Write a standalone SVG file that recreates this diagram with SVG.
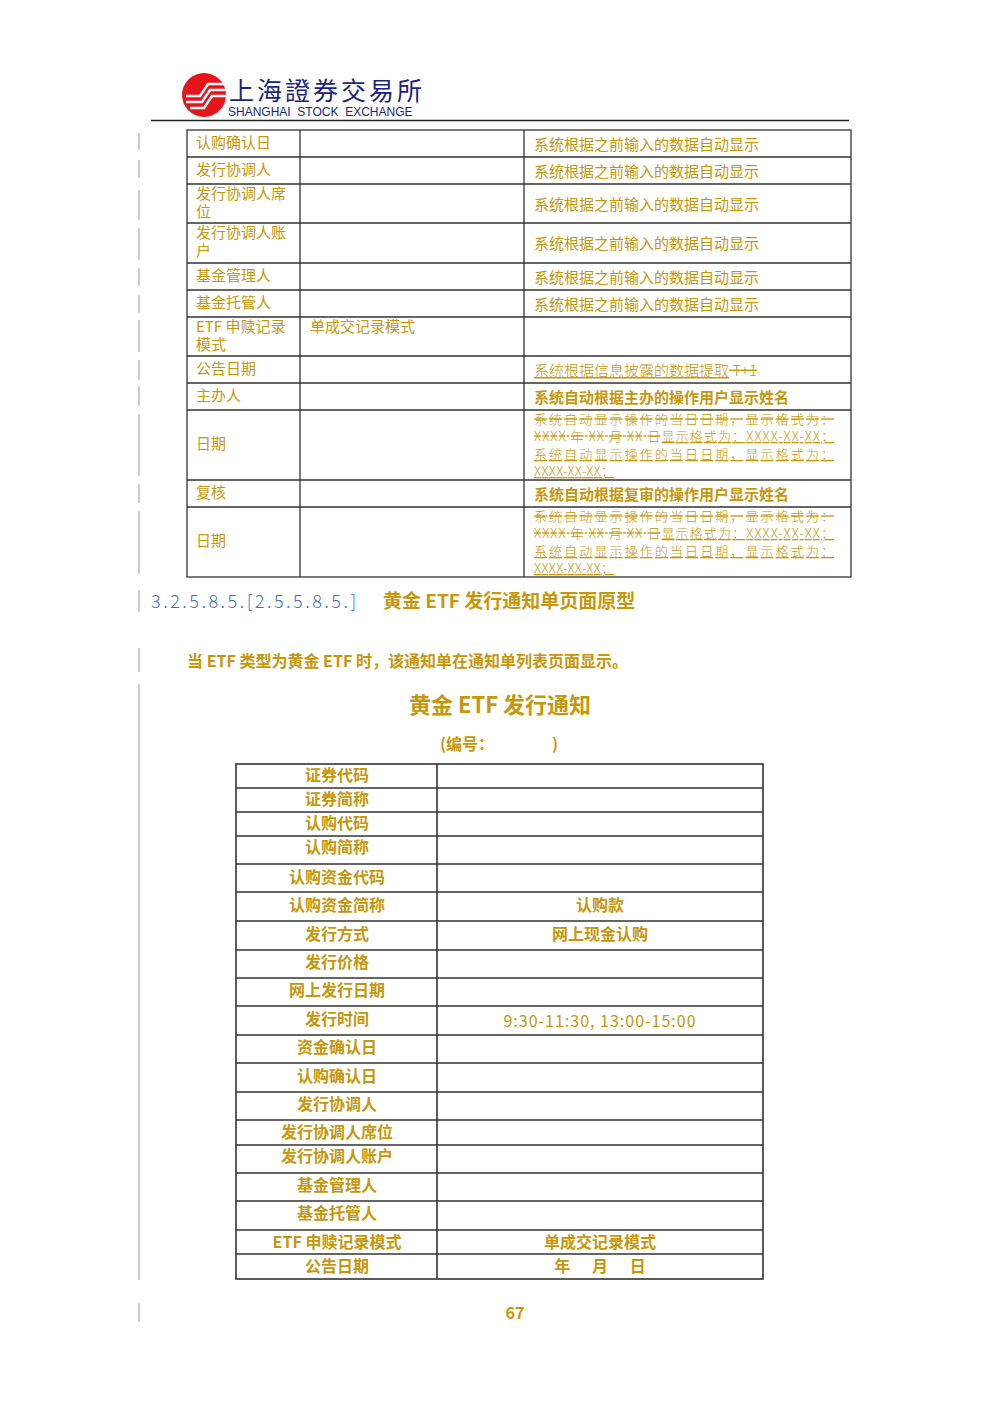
<svg xmlns="http://www.w3.org/2000/svg" width="1000" height="1415" viewBox="0 0 1000 1415">
<style>
.g{fill:#c8960a;font-family:"Noto Sans CJK SC","Liberation Serif",serif;font-size:15px}
.b{font-weight:bold}
.c{text-anchor:middle}
.s{text-decoration:line-through}
.u{text-decoration:underline}
.t{fill:none;stroke:#333;stroke-width:1.3}
.bar{stroke:#999;stroke-width:1}
</style>
<rect width="1000" height="1415" fill="#fff"/>
<g id="logo">
<circle cx="204" cy="95" r="22" fill="#e8141b"/>
<path d="M186 96 h14 l8 -12 h20 M186 102 h16 l8 -12 h18 M190 108 h14 l8 -12 h16" stroke="#fff" stroke-width="2.5" fill="none"/>
<text x="229" y="100" font-family="Noto Sans CJK SC,sans-serif" font-size="25" fill="#1a237e" letter-spacing="3">上海證券交易所</text>
<text x="228" y="116" font-family="Liberation Sans,sans-serif" font-size="12" fill="#1a237e" xml:space="preserve">SHANGHAI  STOCK  EXCHANGE</text>
<line x1="151" y1="120.5" x2="849" y2="120.5" stroke="#222" stroke-width="1.5"/>
</g>
<g id="bars">
<line class="bar" x1="139" y1="133" x2="139" y2="150"/><line class="bar" x1="139" y1="160" x2="139" y2="178"/>
<line class="bar" x1="139" y1="190" x2="139" y2="220"/><line class="bar" x1="139" y1="228" x2="139" y2="260"/>
<line class="bar" x1="139" y1="268" x2="139" y2="286"/><line class="bar" x1="139" y1="295" x2="139" y2="313"/>
<line class="bar" x1="139" y1="320" x2="139" y2="352"/><line class="bar" x1="139" y1="360" x2="139" y2="380"/>
<line class="bar" x1="139" y1="386" x2="139" y2="406"/><line class="bar" x1="139" y1="414" x2="139" y2="476"/>
<line class="bar" x1="139" y1="484" x2="139" y2="503"/><line class="bar" x1="139" y1="511" x2="139" y2="574"/>
<line class="bar" x1="139" y1="590" x2="139" y2="612"/><line class="bar" x1="139" y1="648" x2="139" y2="672"/>
<line class="bar" x1="139" y1="684" x2="139" y2="1280"/><line class="bar" x1="139" y1="1303" x2="139" y2="1322"/>
</g>
<g id="table1">
<rect class="t" x="187" y="130" width="664" height="447"/>
<path class="t" d="M300 130V577M524 130V577M187 157H851M187 184H851M187 223H851M187 263H851M187 290H851M187 317H851M187 356H851M187 383H851M187 410H851M187 480H851M187 507H851"/>
<g class="g">
<text x="196" y="148">认购确认日</text><text x="534" y="150">系统根据之前输入的数据自动显示</text>
<text x="196" y="175">发行协调人</text><text x="534" y="177">系统根据之前输入的数据自动显示</text>
<text x="196" y="199">发行协调人席</text><text x="196" y="217">位</text><text x="534" y="210">系统根据之前输入的数据自动显示</text>
<text x="196" y="238">发行协调人账</text><text x="196" y="256">户</text><text x="534" y="249">系统根据之前输入的数据自动显示</text>
<text x="196" y="281">基金管理人</text><text x="534" y="283">系统根据之前输入的数据自动显示</text>
<text x="196" y="308">基金托管人</text><text x="534" y="310">系统根据之前输入的数据自动显示</text>
<text x="196" y="332">ETF 申赎记录</text><text x="196" y="350">模式</text><text x="310" y="332">单成交记录模式</text>
<text x="196" y="374">公告日期</text>
<text x="534" y="376" font-weight="300"><tspan class="u">系统根据信息披露的数据提取</tspan><tspan class="s"> T+1 </tspan></text>
<text x="196" y="401">主办人</text><text x="534" y="403" class="b">系统自动根据主办的操作用户显示姓名</text>
<text x="196" y="449">日期</text>
<g font-weight="300" style="font-size:13px">
<text x="534" y="424" class="s" textLength="300">系统自动显示操作的当日日期，显示格式为：</text>
<text x="534" y="441" textLength="300"><tspan class="s">XXXX 年 XX 月 XX 日</tspan><tspan class="u">显示格式为：XXXX-XX-XX；</tspan></text>
<text x="534" y="459" class="u" textLength="300">系统自动显示操作的当日日期，显示格式为：</text>
<text x="534" y="476" class="u" textLength="80">XXXX-XX-XX；</text>
</g>
<text x="196" y="498">复核</text><text x="534" y="500" class="b">系统自动根据复审的操作用户显示姓名</text>
<text x="196" y="546">日期</text>
<g font-weight="300" style="font-size:13px">
<text x="534" y="521" class="s" textLength="300">系统自动显示操作的当日日期，显示格式为：</text>
<text x="534" y="538" textLength="300"><tspan class="s">XXXX 年 XX 月 XX 日</tspan><tspan class="u">显示格式为：XXXX-XX-XX；</tspan></text>
<text x="534" y="556" class="u" textLength="300">系统自动显示操作的当日日期，显示格式为：</text>
<text x="534" y="573" class="u" textLength="80">XXXX-XX-XX；</text>
</g>
</g>
</g>
<g id="heading">
<text x="151" y="608" style="font-family:'Noto Sans CJK SC',serif;font-size:18px;fill:#3b6fc9;font-weight:300" letter-spacing="2.5">3.2.5.8.5.[2.5.5.8.5.]</text>
<text x="383" y="608" class="g b" style="font-size:19px">黄金 ETF 发行通知单页面原型</text>
<text x="187" y="667" class="g b" style="font-size:16px">当 ETF 类型为黄金 ETF 时，该通知单在通知单列表页面显示。</text>
<text x="500" y="713" class="g b c" style="font-size:22px">黄金 ETF 发行通知</text>
<text x="440" y="750" class="g b" style="font-size:16px">(编号：</text><text x="552" y="750" class="g b" style="font-size:16px">)</text>
</g>
<g id="table2">
<rect class="t" x="236" y="764" width="527" height="515" style="stroke-width:1.6"/>
<path class="t" style="stroke-width:1.6" d="M437 764V1279M236 788H763M236 812H763M236 836H763M236 864H763M236 892H763M236 921H763M236 950H763M236 978H763M236 1006H763M236 1035H763M236 1063H763M236 1092H763M236 1120H763M236 1145H763M236 1173H763M236 1201H763M236 1230H763M236 1254H763"/>
<g class="g b c" style="font-size:16px">
<text x="337" y="781">证券代码</text><text x="337" y="805">证券简称</text><text x="337" y="829">认购代码</text><text x="337" y="853">认购简称</text>
<text x="337" y="883">认购资金代码</text><text x="337" y="911">认购资金简称</text><text x="337" y="940">发行方式</text>
<text x="337" y="968">发行价格</text><text x="337" y="996">网上发行日期</text><text x="337" y="1025">发行时间</text>
<text x="337" y="1053">资金确认日</text><text x="337" y="1082">认购确认日</text><text x="337" y="1110">发行协调人</text>
<text x="337" y="1138">发行协调人席位</text><text x="337" y="1162">发行协调人账户</text><text x="337" y="1191">基金管理人</text>
<text x="337" y="1219">基金托管人</text><text x="337" y="1248">ETF 申赎记录模式</text><text x="337" y="1272">公告日期</text>
<text x="600" y="911">认购款</text><text x="600" y="940">网上现金认购</text>
<text x="600" y="1027" font-weight="normal" letter-spacing="1">9:30-11:30, 13:00-15:00</text>
<text x="600" y="1248">单成交记录模式</text>
<text x="600" y="1272" xml:space="preserve">年      月      日</text>
</g>
</g>
<text x="515" y="1319" class="g b c" style="font-size:16px">67</text>
</svg>
